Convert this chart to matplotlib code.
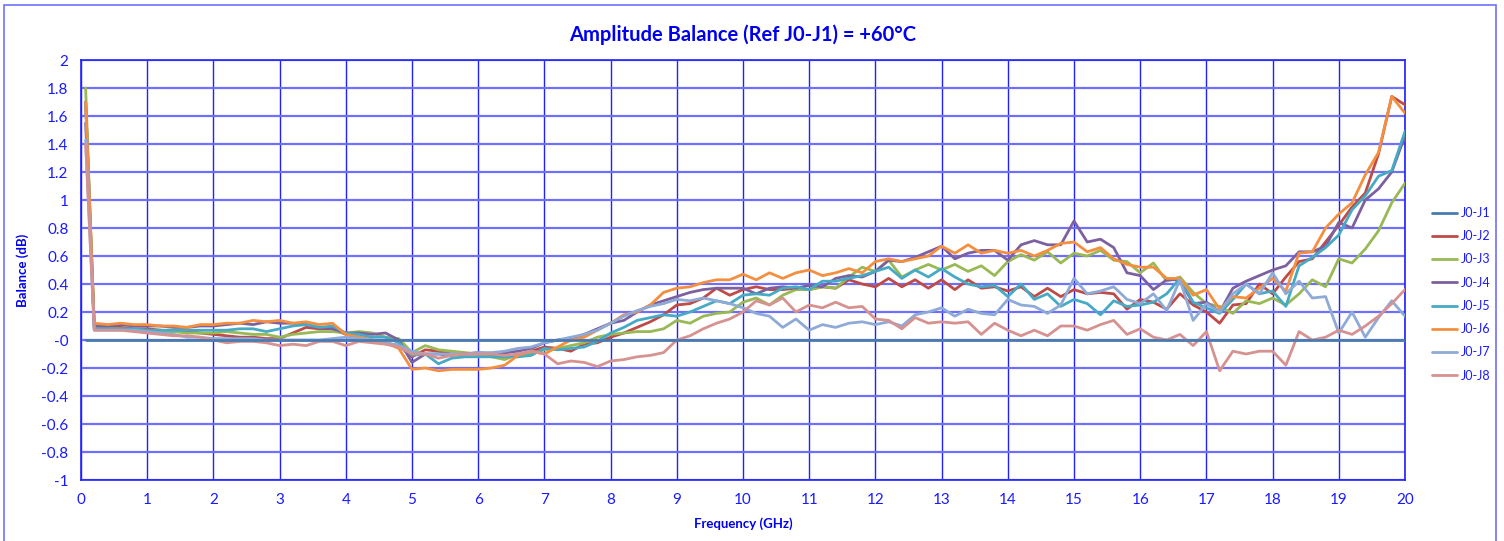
import numpy as np
import matplotlib.pyplot as plt
from matplotlib.patches import Rectangle

# frequency axis: first sample near DC, then every 0.2 GHz
freq = np.concatenate([[0.07], np.round(np.arange(1, 101) * 0.2, 2)])

j2 = [1.70,
      0.10, 0.09, 0.09, 0.08, 0.08, 0.07, 0.06, 0.06, 0.05, 0.04,
      0.03, 0.02, 0.02, 0.01, 0.01, 0.05, 0.09, 0.08, 0.08, 0.04,
      0.02, 0.00, -0.02, -0.04, -0.12, -0.07, -0.08, -0.10, -0.10, -0.10,
      -0.11, -0.10, -0.12, -0.08, -0.05, -0.06, -0.08, -0.03, -0.02, 0.02,
      0.05, 0.09, 0.13, 0.18, 0.25, 0.26, 0.30, 0.37, 0.32, 0.36,
      0.38, 0.36, 0.36, 0.37, 0.36, 0.38, 0.37, 0.43, 0.40, 0.38,
      0.44, 0.38, 0.43, 0.37, 0.43, 0.36, 0.43, 0.37, 0.38, 0.35,
      0.38, 0.31, 0.37, 0.31, 0.36, 0.33, 0.34, 0.33, 0.22, 0.29,
      0.27, 0.22, 0.33, 0.25, 0.20, 0.12, 0.25, 0.26, 0.40, 0.33,
      0.45, 0.56, 0.58, 0.70, 0.82, 0.95, 1.05, 1.33, 1.74, 1.68]

j3 = [1.80,
      0.08, 0.08, 0.08, 0.07, 0.07, 0.06, 0.06, 0.05, 0.05, 0.05,
      0.06, 0.05, 0.04, 0.04, 0.02, 0.04, 0.05, 0.06, 0.06, 0.05,
      0.06, 0.05, 0.02, 0.01, -0.09, -0.04, -0.07, -0.08, -0.09, -0.10,
      -0.12, -0.14, -0.10, -0.10, -0.07, -0.06, -0.04, -0.02, 0.02, 0.04,
      0.05, 0.06, 0.06, 0.08, 0.14, 0.12, 0.17, 0.19, 0.20, 0.27,
      0.30, 0.25, 0.32, 0.36, 0.36, 0.38, 0.37, 0.45, 0.52, 0.49,
      0.57, 0.45, 0.50, 0.54, 0.50, 0.54, 0.49, 0.53, 0.46, 0.56,
      0.61, 0.57, 0.63, 0.55, 0.62, 0.60, 0.64, 0.57, 0.56, 0.48,
      0.55, 0.42, 0.45, 0.34, 0.26, 0.24, 0.19, 0.28, 0.26, 0.30,
      0.25, 0.33, 0.43, 0.38, 0.58, 0.55, 0.65, 0.78, 0.98, 1.12]

j4 = [1.55,
      0.10, 0.10, 0.11, 0.10, 0.10, 0.10, 0.09, 0.09, 0.10, 0.10,
      0.11, 0.12, 0.11, 0.13, 0.12, 0.12, 0.11, 0.09, 0.08, 0.05,
      0.05, 0.04, 0.05, 0.00, -0.16, -0.10, -0.10, -0.11, -0.10, -0.09,
      -0.10, -0.09, -0.08, -0.06, -0.02, 0.00, 0.01, 0.04, 0.08, 0.12,
      0.14, 0.20, 0.25, 0.28, 0.31, 0.34, 0.36, 0.37, 0.37, 0.37,
      0.33, 0.37, 0.38, 0.37, 0.39, 0.38, 0.44, 0.46, 0.45, 0.49,
      0.57, 0.56, 0.59, 0.63, 0.67, 0.58, 0.62, 0.64, 0.64, 0.57,
      0.68, 0.71, 0.68, 0.68, 0.85, 0.70, 0.72, 0.66, 0.48, 0.46,
      0.36, 0.43, 0.43, 0.26, 0.27, 0.20, 0.37, 0.42, 0.46, 0.50,
      0.53, 0.63, 0.63, 0.67, 0.84, 0.80, 1.00, 1.08, 1.20, 1.46]

j5 = [1.70,
      0.08, 0.08, 0.08, 0.08, 0.07, 0.07, 0.07, 0.07, 0.07, 0.07,
      0.07, 0.08, 0.08, 0.06, 0.08, 0.10, 0.11, 0.09, 0.10, 0.05,
      0.04, 0.02, 0.02, -0.02, -0.11, -0.10, -0.17, -0.13, -0.12, -0.12,
      -0.12, -0.12, -0.12, -0.11, -0.06, -0.07, -0.06, -0.05, -0.01, 0.05,
      0.09, 0.14, 0.16, 0.18, 0.17, 0.20, 0.24, 0.28, 0.26, 0.32,
      0.33, 0.32, 0.37, 0.38, 0.36, 0.42, 0.42, 0.44, 0.46, 0.49,
      0.52, 0.44, 0.50, 0.45, 0.51, 0.45, 0.40, 0.38, 0.39, 0.31,
      0.40, 0.29, 0.33, 0.24, 0.29, 0.26, 0.18, 0.28, 0.24, 0.25,
      0.27, 0.33, 0.44, 0.27, 0.23, 0.19, 0.29, 0.40, 0.33, 0.35,
      0.24, 0.53, 0.59, 0.66, 0.75, 0.93, 1.03, 1.17, 1.21, 1.49]

j6 = [1.70,
      0.12, 0.11, 0.12, 0.11, 0.11, 0.10, 0.10, 0.09, 0.11, 0.11,
      0.12, 0.12, 0.14, 0.13, 0.14, 0.12, 0.13, 0.11, 0.12, 0.04,
      0.02, 0.00, -0.02, -0.06, -0.21, -0.20, -0.22, -0.21, -0.21, -0.21,
      -0.20, -0.18, -0.11, -0.08, -0.10, -0.05, 0.00, 0.02, 0.07, 0.12,
      0.18, 0.20, 0.25, 0.34, 0.37, 0.38, 0.41, 0.43, 0.43, 0.47,
      0.43, 0.48, 0.44, 0.48, 0.50, 0.46, 0.48, 0.51, 0.48, 0.56,
      0.58, 0.56, 0.58, 0.60, 0.67, 0.62, 0.68, 0.62, 0.64, 0.62,
      0.64, 0.60, 0.64, 0.69, 0.70, 0.63, 0.66, 0.58, 0.54, 0.52,
      0.52, 0.44, 0.44, 0.32, 0.36, 0.22, 0.31, 0.30, 0.37, 0.44,
      0.35, 0.62, 0.63, 0.80, 0.90, 0.98, 1.18, 1.34, 1.74, 1.62]

j7 = [1.43,
      0.07, 0.07, 0.07, 0.07, 0.06, 0.05, 0.04, 0.02, 0.02, 0.01,
      0.01, 0.01, 0.01, 0.00, 0.00, 0.00, 0.00, 0.00, 0.01, 0.02,
      0.01, 0.00, -0.02, -0.04, -0.08, -0.10, -0.10, -0.10, -0.10, -0.09,
      -0.09, -0.08, -0.06, -0.05, -0.02, 0.00, 0.02, 0.04, 0.07, 0.12,
      0.17, 0.21, 0.24, 0.26, 0.29, 0.28, 0.30, 0.28, 0.26, 0.23,
      0.19, 0.17, 0.09, 0.15, 0.07, 0.11, 0.09, 0.12, 0.13, 0.11,
      0.13, 0.10, 0.18, 0.20, 0.23, 0.17, 0.22, 0.19, 0.18, 0.29,
      0.25, 0.24, 0.19, 0.25, 0.44, 0.33, 0.35, 0.38, 0.29, 0.26,
      0.33, 0.21, 0.43, 0.14, 0.26, 0.20, 0.33, 0.40, 0.33, 0.48,
      0.33, 0.42, 0.30, 0.31, 0.05, 0.20, 0.02, 0.16, 0.28, 0.17]

j8 = [1.40,
      0.07, 0.07, 0.07, 0.06, 0.05, 0.04, 0.03, 0.03, 0.02, 0.00,
      -0.02, -0.01, -0.01, -0.02, -0.04, -0.03, -0.04, -0.01, -0.01, -0.04,
      -0.01, -0.02, -0.03, -0.05, -0.10, -0.10, -0.13, -0.11, -0.10, -0.10,
      -0.10, -0.11, -0.10, -0.08, -0.10, -0.17, -0.15, -0.16, -0.19, -0.15,
      -0.14, -0.12, -0.11, -0.09, 0.00, 0.03, 0.08, 0.12, 0.15, 0.20,
      0.28, 0.25, 0.30, 0.20, 0.25, 0.23, 0.27, 0.23, 0.24, 0.15,
      0.14, 0.08, 0.16, 0.12, 0.13, 0.12, 0.13, 0.04, 0.12, 0.07,
      0.03, 0.07, 0.03, 0.10, 0.10, 0.07, 0.11, 0.14, 0.04, 0.08,
      0.02, 0.00, 0.04, -0.04, 0.06, -0.22, -0.08, -0.10, -0.08, -0.08,
      -0.18, 0.06, 0.00, 0.02, 0.07, 0.04, 0.10, 0.17, 0.26, 0.36]

j1 = [0.0] * len(freq)

names = ['J0-J1', 'J0-J2', 'J0-J3', 'J0-J4', 'J0-J5', 'J0-J6', 'J0-J7', 'J0-J8']
series = [j1, j2, j3, j4, j5, j6, j7, j8]
colors = ['#4A7BB0', '#BE4B48', '#98B954', '#7D60A0', '#46AAC5', '#F38F3F', '#8EAAD6', '#D69290']

plt.rcParams['font.family'] = ['Lato', 'DejaVu Sans']

fig = plt.figure(figsize=(15.04, 5.41), dpi=100)
ax = fig.add_axes([81 / 1504, 1 - 480 / 541, 1324 / 1504, 420 / 541])

for i, (name, vals) in enumerate(zip(names, series)):
    ax.plot(freq, vals, color=colors[i], lw=2.0, label=name,
            zorder=10 if i == 0 else 3, solid_capstyle='round')

yt = np.round(np.arange(-1, 2.01, 0.2), 1)
ax.set_xlim(0, 20)
ax.set_ylim(-1, 2)
ax.set_xticks(range(0, 21))
ax.set_yticks(yt)
ax.set_yticklabels(['%g' % v for v in yt])
ax.tick_params(length=0, colors='#1a1aff', labelsize=11, pad=9)
ax.xaxis.grid(True, color='#2020ff', lw=1.0)
ax.yaxis.grid(True, color='#6f6fff', lw=1.6)
ax.set_axisbelow(True)
for s in ax.spines.values():
    s.set_color('#2020ff')
    s.set_linewidth(1.2)

ax.set_title('Amplitude Balance (Ref J0-J1) = +60°C', color='#0000ee',
             fontsize=14.5, fontweight='bold', pad=14)
ax.set_xlabel('Frequency (GHz)', color='#0000ee', fontsize=9.5, fontweight='bold',
              labelpad=8)
ax.set_ylabel('Balance (dB)', color='#0000ee', fontsize=9.5, fontweight='bold',
              labelpad=9)

leg = ax.legend(loc='center left', bbox_to_anchor=(1.012, 0.442), frameon=False,
                fontsize=9, handlelength=2.0, labelspacing=0.9, handletextpad=0.3)
for t in leg.get_texts():
    t.set_color('#1a1aff')

fig.patches.append(Rectangle((4 / 1504, -0.01), 1492 / 1504, 1 - 5 / 541 + 0.01,
                             transform=fig.transFigure, fill=False,
                             edgecolor='#6f6fff', lw=1.2))

fig.savefig('out.png', dpi=100)
